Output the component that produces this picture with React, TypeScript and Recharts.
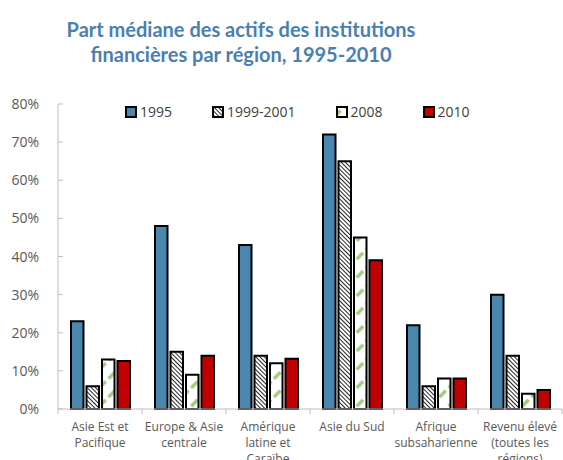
import { BarChart, Bar, XAxis, YAxis, Legend } from "recharts";

const categories = [
  "Asie Est et\nPacifique",
  "Europe & Asie\ncentrale",
  "Amérique\nlatine et\nCaraïbe",
  "Asie du Sud",
  "Afrique\nsubsaharienne",
  "Revenu élevé\n(toutes les\nrégions)",
];
const v1995 = [23, 48, 43, 72, 22, 30];
const v1999 = [6, 15, 14, 65, 6, 14];
const v2008 = [13, 9, 12, 45, 8, 4];
const v2010 = [12.6, 14, 13.2, 39, 8, 5];
const yTicks = [0, 10, 20, 30, 40, 50, 60, 70, 80];

const TITLE = ["Part médiane des actifs des institutions", "financières par région, 1995-2010"];

const series = [
  { key: "y1995", name: "1995", fill: "#4A86AD" },
  { key: "y1999", name: "1999-2001", fill: "url(#hatch)" },
  { key: "y2008", name: "2008", fill: "url(#green)" },
  { key: "y2010", name: "2010", fill: "#C00000" },
];

const data = categories.map((c, i) => ({
  cat: c,
  y1995: v1995[i],
  y1999: v1999[i],
  y2008: v2008[i],
  y2010: v2010[i],
}));

const FONT = "'Open Sans', sans-serif";
const AXIS = "#BFBFBF";
const TXT = "#595959";

function XTick(props: any) {
  const { x, y, payload, index } = props;
  const off = payload?.offset ?? 42;
  const lines = String(payload.value).split("\n");
  return (
    <g>
      <line x1={x - off} x2={x - off} y1={y} y2={y + 5} stroke={AXIS} />
      {index === categories.length - 1 && (
        <line x1={x + off} x2={x + off} y1={y} y2={y + 5} stroke={AXIS} />
      )}
      <text x={x} y={y} textAnchor="middle" fontFamily={FONT} fontSize={12} fill={TXT}>
        {lines.map((l, i) => (
          <tspan key={i} x={x} dy={i === 0 ? 22 : 16}>{l}</tspan>
        ))}
      </text>
    </g>
  );
}

function YTick(props: any) {
  const { x, y, payload } = props;
  return (
    <g>
      <line x1={x} x2={x + 5} y1={y} y2={y} stroke={AXIS} />
      <text x={x - 19} y={y} dy="0.36em" textAnchor="end" fontFamily={FONT} fontSize={14} fill={TXT}>
        {payload.value}%
      </text>
    </g>
  );
}

function LegendContent(props: any) {
  const payload = props.payload || [];
  return (
    <div style={{ display: "flex", gap: 40, fontFamily: FONT, fontSize: 14, color: "#404040" }}>
      {payload.map((p: any) => {
        const s = series.find(s => s.key === p.dataKey);
        return (
          <div key={p.value} style={{ display: "flex", alignItems: "center", gap: 3 }}>
            <svg width={12} height={12}>
              <rect x={1} y={1} width={10} height={10} fill={s?.fill} stroke="#000" strokeWidth={2} />
            </svg>
            <span>{p.value}</span>
          </div>
        );
      })}
    </div>
  );
}

export default function App() {
  return (
    <div style={{ position: "absolute", left: 0, top: 0, width: 563, height: 460, background: "#fff" }}>
      <svg width={563} height={80} style={{ position: "absolute", left: 0, top: 0 }}>
        <text x={241} y={37} textAnchor="middle" fontFamily="Lato, sans-serif" fontWeight={700} fontSize={20} fill="#4A7FB2">
          {TITLE[0]}
        </text>
        <text x={241} y={62} textAnchor="middle" fontFamily="Lato, sans-serif" fontWeight={700} fontSize={20} fill="#4A7FB2">
          {TITLE[1]}
        </text>
      </svg>
      <BarChart
        width={563}
        height={460}
        data={data}
        margin={{ top: 85, right: 1, left: 0, bottom: 0 }}
        barSize={12.5}
        barGap={3}
      >
        <defs>
          <pattern id="hatch" width={3} height={3} patternUnits="userSpaceOnUse" patternTransform="rotate(-45)">
            <rect width={3} height={3} fill="#fff" />
            <line x1={0} y1={0} x2={0} y2={3} stroke="#000" strokeWidth={1.7} />
          </pattern>
          <pattern id="green" width={13} height={13} patternUnits="userSpaceOnUse" patternTransform="rotate(45)">
            <rect width={13} height={13} fill="#fff" />
            <line x1={6.5} y1={0} x2={6.5} y2={9} stroke="#A3CB7C" strokeWidth={3.5} />
          </pattern>
        </defs>
        <XAxis
          dataKey="cat"
          height={51}
          interval={0}
          stroke={AXIS}
          tickLine={false}
          tickSize={0}
          tickMargin={0}
          tick={<XTick />}
        />
        <YAxis
          width={58}
          domain={[0, 80]}
          ticks={yTicks}
          stroke={AXIS}
          tickLine={false}
          tickSize={0}
          tickMargin={0}
          tick={<YTick />}
        />
        <Legend
          verticalAlign="top"
          content={<LegendContent />}
          wrapperStyle={{ top: 102, left: 125, width: "auto" }}
        />
        {series.map(s => (
          <Bar
            key={s.key}
            dataKey={s.key}
            name={s.name}
            fill={s.fill}
            stroke="#000"
            strokeWidth={2}
            isAnimationActive={false}
          />
        ))}
      </BarChart>
    </div>
  );
}
